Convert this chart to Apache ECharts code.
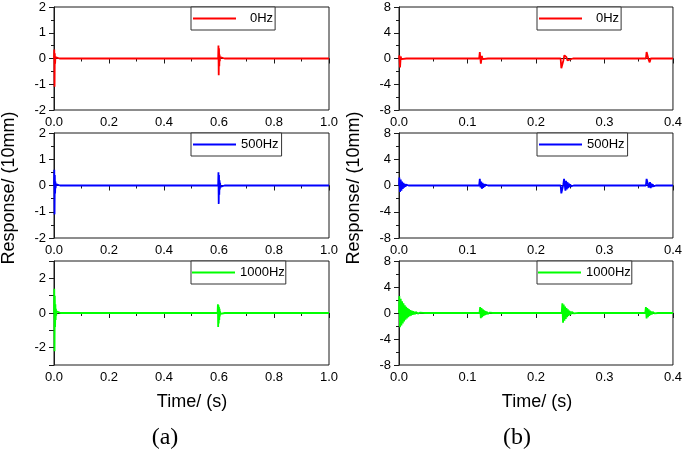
<!DOCTYPE html>
<html>
<head>
<meta charset="utf-8">
<script src="https://cdn.jsdelivr.net/npm/echarts@6/dist/echarts.min.js"></script>
<style>
html,body{margin:0;padding:0;background:#fff;}
#main{width:685px;height:450px;}
</style>
</head>
<body>
<div id="main"></div>
<script>
// ---- Data (time [s], response [10mm]) ----
const seriesNames = ['0Hz', '500Hz', '1000Hz'];
const seriesColors = ['#ff0000', '#0000ff', '#00ff00'];

// Panel (a): 0 - 1.0 s
const a_0Hz = [[0,0],[0.001,0.35],[0.002,-1.1],[0.003,0.2],[0.004,-0.2],[0.005,0.05],[0.006,0],[0.02,0],
  [0.597,0],[0.598,0.5],[0.599,-0.65],[0.600,0.4],[0.601,-0.3],[0.602,0.15],[0.603,-0.1],[0.604,0.05],[0.605,0],[0.62,0],[1,0]];
const a_500Hz = [[0,0],[0.001,0.6],[0.002,-1.1],[0.003,0.4],[0.004,-0.3],[0.005,0.15],[0.006,-0.1],[0.007,0.05],[0.008,0],[0.022,0],
  [0.597,0],[0.598,0.5],[0.599,-0.7],[0.600,0.4],[0.601,-0.35],[0.602,0.2],[0.603,-0.15],[0.604,0.1],[0.605,-0.05],[0.606,0],[0.62,0],[1,0]];
const a_1000Hz = [[0,0],[0.001,1.4],[0.002,-2.2],[0.003,1.0],[0.004,-0.8],[0.005,0.5],[0.006,-0.4],[0.007,0.25],[0.008,-0.15],[0.009,0.1],[0.010,0],[0.024,0],
  [0.595,0],[0.596,0.5],[0.597,-0.8],[0.598,0.45],[0.599,-0.6],[0.600,0.35],[0.601,-0.4],[0.602,0.25],[0.603,-0.2],[0.604,0.1],[0.605,-0.05],[0.607,0],[0.621,0],[1,0]];

// Panel (b): 0 - 0.4 s
const b_0Hz = [[0,0],[0.0005,0.5],[0.0015,-1.4],[0.0025,0.3],[0.0035,-0.1],[0.005,0],[0.011,0],
  [0.117,0],[0.118,1.0],[0.1195,-0.8],[0.121,0.4],[0.122,-0.1],[0.124,0],[0.13,0],
  [0.236,0],[0.237,-1.5],[0.2385,-1.5],[0.240,-0.3],[0.2415,0.5],[0.243,0.8],[0.2445,0.2],[0.246,-0.3],[0.2475,0],[0.254,0],
  [0.3605,0],[0.3615,1.0],[0.363,0.7],[0.3645,-0.2],[0.366,-0.6],[0.3675,0],[0.374,0],[0.4,0]];
const b_500Hz = [[0,0],[0.0005,1.2],[0.0015,-1.0],[0.0025,0.9],[0.0035,-0.8],[0.0045,0.6],[0.0055,-0.5],[0.0065,0.4],[0.0075,-0.3],[0.0085,0.25],[0.0095,-0.2],[0.0105,0.12],[0.0115,-0.1],[0.0125,0.05],[0.014,0],[0.02,0],
  [0.117,0],[0.118,1.0],[0.119,-0.3],[0.120,0.6],[0.121,-0.5],[0.122,0.4],[0.123,-0.35],[0.124,0.25],[0.125,-0.2],[0.126,0.15],[0.127,-0.1],[0.128,0.05],[0.130,0],[0.136,0],
  [0.236,0],[0.237,-1.2],[0.238,-1.5],[0.239,-1.0],[0.240,0.2],[0.241,1.0],[0.242,1.2],[0.243,-0.8],[0.244,0.7],[0.245,-0.6],[0.246,0.5],[0.247,-0.4],[0.248,0.3],[0.249,-0.25],[0.250,0.2],[0.251,-0.15],[0.252,0.1],[0.253,-0.05],[0.255,0],[0.261,0],
  [0.3605,0],[0.3615,1.0],[0.3625,0.8],[0.3635,0.2],[0.3645,-0.3],[0.3655,-0.5],[0.3665,0.5],[0.3675,-0.4],[0.3685,0.3],[0.3695,-0.25],[0.3705,0.2],[0.3715,-0.15],[0.3725,0.1],[0.3735,-0.05],[0.375,0],[0.381,0],[0.4,0]];
const b_1000Hz = [[0,0],[0.0005,2.6],[0.0015,-2.2],[0.0025,2.2],[0.0035,-1.9],[0.0045,1.8],[0.0055,-1.6],[0.0065,1.5],[0.0075,-1.3],[0.0085,1.2],[0.0095,-1.05],[0.0105,0.95],[0.0115,-0.85],[0.0125,0.75],[0.0135,-0.65],[0.0145,0.6],[0.0155,-0.5],[0.0165,0.45],[0.0175,-0.4],[0.0185,0.35],[0.0195,-0.3],[0.0205,0.28],[0.0215,-0.24],[0.0225,0.2],[0.0235,-0.18],[0.0245,0.15],[0.0255,-0.13],[0.0265,0.11],[0.0275,-0.09],[0.0285,0.08],[0.0295,-0.06],[0.031,0.05],[0.033,-0.03],[0.035,0.02],[0.038,0],[0.044,0],
  [0.1175,0],[0.1185,0.9],[0.1195,-0.8],[0.1205,0.75],[0.1215,-0.65],[0.1225,0.55],[0.1235,-0.45],[0.1245,0.4],[0.1255,-0.33],[0.1265,0.28],[0.1275,-0.22],[0.1285,0.18],[0.1295,-0.14],[0.1305,0.11],[0.1315,-0.08],[0.1325,0.06],[0.1345,-0.03],[0.137,0],[0.143,0],
  [0.2375,0],[0.2385,1.5],[0.2395,-1.5],[0.2405,1.3],[0.2415,-1.2],[0.2425,1.0],[0.2435,-0.9],[0.2445,0.75],[0.2455,-0.65],[0.2465,0.55],[0.2475,-0.45],[0.2485,0.38],[0.2495,-0.3],[0.2505,0.25],[0.2515,-0.2],[0.2525,0.16],[0.2535,-0.12],[0.2545,0.1],[0.2555,-0.07],[0.257,0.05],[0.259,-0.02],[0.262,0],[0.268,0],
  [0.3595,0],[0.3605,0.9],[0.3615,-0.85],[0.3625,0.75],[0.3635,-0.65],[0.3645,0.55],[0.3655,-0.45],[0.3665,0.38],[0.3675,-0.3],[0.3685,0.25],[0.3695,-0.2],[0.3705,0.16],[0.3715,-0.12],[0.3725,0.09],[0.3735,-0.06],[0.375,0.04],[0.378,0],[0.384,0],[0.4,0]];

// Axis tick definitions [min, max, interval]
const xTicksA = [0, 1.0, 0.2];
const xTicksB = [0, 0.4, 0.1];
const yTicksA = [[-2, 2, 1], [-2, 2, 1], [-3, 3, 1]];
const yTicksB = [[-8, 8, 4], [-8, 8, 4], [-8, 8, 4]];
const yLabelsA3 = [-2, 0, 2];

const yLabelText = 'Response/ (10mm)';
const xLabelText = 'Time/ (s)';
const panelLabels = ['(a)', '(b)'];

// ---- Layout ----
const FONT = '"Liberation Sans", Arial, sans-serif';
const rowTops = [7, 133, 261];
const rowHeights = [103, 105, 104];
const colLeft = [54, 399];
const colWidth = [275, 274];

const dataA = [a_0Hz, a_500Hz, a_1000Hz];
const dataB = [b_0Hz, b_500Hz, b_1000Hz];

const grids = [], xAxes = [], yAxes = [], series = [], legends = [];
const axisColor = '#1a1a1a';

function mkX(ticks, gi) {
  return {
    type: 'value', gridIndex: gi, min: ticks[0], max: ticks[1], interval: ticks[2],
    axisLine: { show: true, lineStyle: { color: axisColor, width: 1 } },
    axisTick: { show: true, inside: false, length: 5, lineStyle: { color: axisColor } },
    minorTick: { show: true, splitNumber: 2, length: 3, lineStyle: { color: axisColor } },
    splitLine: { show: false },
    axisLabel: { fontSize: 13, fontFamily: FONT, color: '#000', margin: 6,
      formatter: v => v.toFixed(1), showMinLabel: true, showMaxLabel: true }
  };
}
function mkY(ticks, gi, labelFilter) {
  return {
    type: 'value', gridIndex: gi, min: ticks[0], max: ticks[1], interval: ticks[2],
    axisLine: { show: true, lineStyle: { color: axisColor, width: 1 } },
    axisTick: { show: true, inside: false, length: 5, lineStyle: { color: axisColor } },
    minorTick: { show: !labelFilter, splitNumber: 2, length: 3, lineStyle: { color: axisColor } },
    splitLine: { show: false },
    axisLabel: { fontSize: 13, fontFamily: FONT, color: '#000', margin: 8,
      showMinLabel: true, showMaxLabel: true,
      formatter: v => (labelFilter && labelFilter.indexOf(v) < 0) ? '' : String(v) }
  };
}

const legendPads = {
  '0Hz': [5, 2, 5, 2],
  '500Hz': [5, 3, 5, 2],
  '1000Hz': [5, 1, 5, 1]
};
const legendTextPad = { '0Hz': 9, '500Hz': 0, '1000Hz': 0 };

for (let c = 0; c < 2; c++) {
  for (let r = 0; r < 3; r++) {
    const gi = grids.length;
    grids.push({ left: colLeft[c], top: rowTops[r], width: colWidth[c], height: rowHeights[r],
      show: true, borderColor: axisColor, borderWidth: 1, backgroundColor: 'transparent' });
    xAxes.push(mkX(c === 0 ? xTicksA : xTicksB, gi));
    const yt = c === 0 ? yTicksA[r] : yTicksB[r];
    yAxes.push(mkY(yt, gi, (c === 0 && r === 2) ? yLabelsA3 : null));
    series.push({
      type: 'line', name: seriesNames[r], xAxisIndex: gi, yAxisIndex: gi,
      data: (c === 0 ? dataA : dataB)[r],
      showSymbol: false, symbol: 'none', animation: false,
      lineStyle: { color: seriesColors[r], width: 1.8 }, itemStyle: { color: seriesColors[r] }
    });
    const pad = legendTextPad[seriesNames[r]];
    legends.push({
      data: [seriesNames[r]], left: c === 0 ? 191 : 537, top: rowTops[r],
      orient: 'horizontal', icon: 'rect', itemWidth: 43, itemHeight: 2,
      borderColor: '#333', borderWidth: 1, backgroundColor: '#fff', borderRadius: 0,
      padding: legendPads[seriesNames[r]], selectedMode: false,
      formatter: '{t|{name}}',
      textStyle: { fontSize: 13, fontFamily: FONT, color: '#000',
        rich: { t: { fontSize: 13, fontFamily: FONT, color: '#000', padding: [0, 0, 0, pad] } } }
    });
  }
}

const graphics = [
  { type: 'text', x: 9, y: 188, rotation: Math.PI / 2,
    style: { text: yLabelText, font: '18px ' + FONT, fill: '#000', textAlign: 'center', textVerticalAlign: 'middle' } },
  { type: 'text', x: 354, y: 188, rotation: Math.PI / 2,
    style: { text: yLabelText, font: '18px ' + FONT, fill: '#000', textAlign: 'center', textVerticalAlign: 'middle' } },
  { type: 'text', x: 192, y: 402,
    style: { text: xLabelText, font: '18px ' + FONT, fill: '#000', textAlign: 'center', textVerticalAlign: 'middle' } },
  { type: 'text', x: 537, y: 402,
    style: { text: xLabelText, font: '18px ' + FONT, fill: '#000', textAlign: 'center', textVerticalAlign: 'middle' } },
  { type: 'text', x: 165, y: 438,
    style: { text: panelLabels[0], font: '24px "Liberation Serif", "Times New Roman", serif', fill: '#000', textAlign: 'center', textVerticalAlign: 'middle' } },
  { type: 'text', x: 517, y: 438,
    style: { text: panelLabels[1], font: '24px "Liberation Serif", "Times New Roman", serif', fill: '#000', textAlign: 'center', textVerticalAlign: 'middle' } }
];

const chart = echarts.init(document.getElementById('main'), null, { renderer: 'canvas' });
chart.setOption({
  animation: false,
  backgroundColor: '#fff',
  grid: grids, xAxis: xAxes, yAxis: yAxes, series: series, legend: legends,
  graphic: graphics
});
</script>
</body>
</html>
